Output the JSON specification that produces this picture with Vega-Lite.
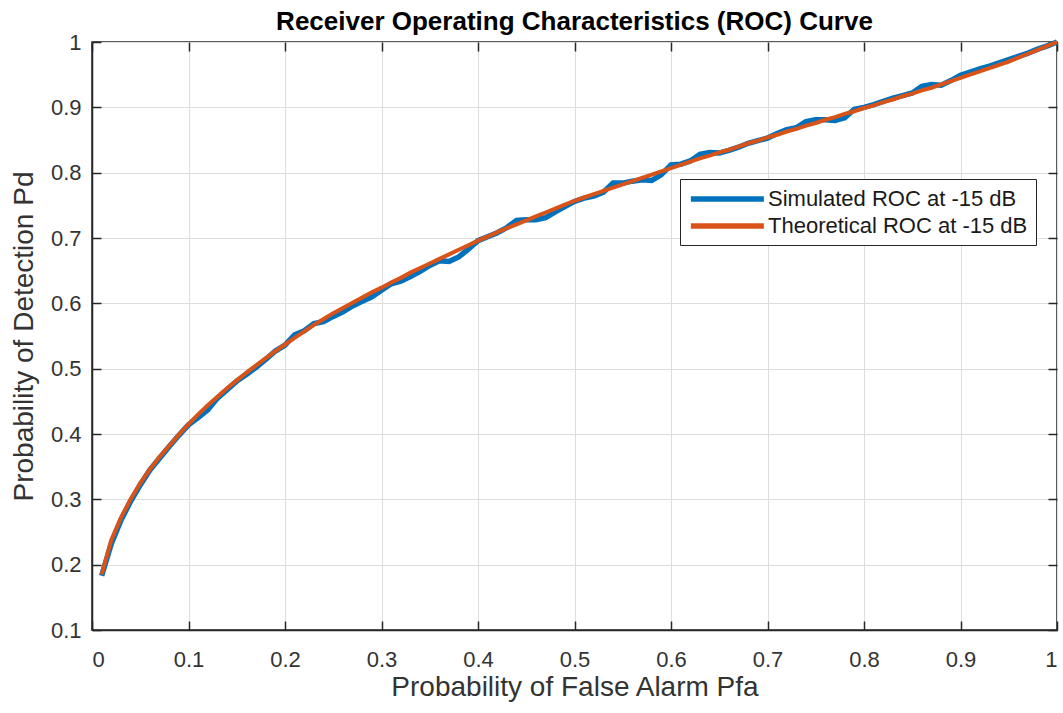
{
  "$schema": "https://vega.github.io/schema/vega-lite/v6.json",
  "width": 965,
  "height": 588,
  "autosize": {"type": "none"},
  "padding": {"left": 92, "top": 42, "right": 6, "bottom": 83},
  "background": "white",
  "title": {"text": "Receiver Operating Characteristics (ROC) Curve", "fontSize": 26, "font": "Liberation Sans", "fontWeight": "bold", "color": "#000000", "offset": -4, "anchor": "middle"},
  "data": {"values": [
    {"pfa": 0.01, "sim": 0.183, "theo": 0.185},
    {"pfa": 0.02, "sim": 0.232, "theo": 0.238},
    {"pfa": 0.03, "sim": 0.268, "theo": 0.272},
    {"pfa": 0.04, "sim": 0.297, "theo": 0.300},
    {"pfa": 0.05, "sim": 0.322, "theo": 0.325},
    {"pfa": 0.06, "sim": 0.345, "theo": 0.346},
    {"pfa": 0.07, "sim": 0.363, "theo": 0.365},
    {"pfa": 0.08, "sim": 0.381, "theo": 0.382},
    {"pfa": 0.09, "sim": 0.398, "theo": 0.399},
    {"pfa": 0.10, "sim": 0.414, "theo": 0.415},
    {"pfa": 0.11, "sim": 0.425, "theo": 0.430},
    {"pfa": 0.12, "sim": 0.437, "theo": 0.444},
    {"pfa": 0.13, "sim": 0.455, "theo": 0.457},
    {"pfa": 0.14, "sim": 0.468, "theo": 0.470},
    {"pfa": 0.15, "sim": 0.481, "theo": 0.482},
    {"pfa": 0.16, "sim": 0.491, "theo": 0.494},
    {"pfa": 0.17, "sim": 0.502, "theo": 0.505},
    {"pfa": 0.18, "sim": 0.514, "theo": 0.516},
    {"pfa": 0.19, "sim": 0.527, "theo": 0.527},
    {"pfa": 0.20, "sim": 0.536, "theo": 0.537},
    {"pfa": 0.21, "sim": 0.552, "theo": 0.547},
    {"pfa": 0.22, "sim": 0.558, "theo": 0.557},
    {"pfa": 0.23, "sim": 0.569, "theo": 0.567},
    {"pfa": 0.24, "sim": 0.572, "theo": 0.576},
    {"pfa": 0.25, "sim": 0.580, "theo": 0.585},
    {"pfa": 0.26, "sim": 0.587, "theo": 0.593},
    {"pfa": 0.27, "sim": 0.596, "theo": 0.601},
    {"pfa": 0.28, "sim": 0.603, "theo": 0.609},
    {"pfa": 0.29, "sim": 0.610, "theo": 0.617},
    {"pfa": 0.30, "sim": 0.620, "theo": 0.624},
    {"pfa": 0.31, "sim": 0.630, "theo": 0.632},
    {"pfa": 0.32, "sim": 0.634, "theo": 0.639},
    {"pfa": 0.33, "sim": 0.641, "theo": 0.647},
    {"pfa": 0.34, "sim": 0.649, "theo": 0.654},
    {"pfa": 0.35, "sim": 0.658, "theo": 0.661},
    {"pfa": 0.36, "sim": 0.665, "theo": 0.668},
    {"pfa": 0.37, "sim": 0.664, "theo": 0.675},
    {"pfa": 0.38, "sim": 0.671, "theo": 0.682},
    {"pfa": 0.39, "sim": 0.683, "theo": 0.689},
    {"pfa": 0.40, "sim": 0.696, "theo": 0.696},
    {"pfa": 0.41, "sim": 0.702, "theo": 0.702},
    {"pfa": 0.42, "sim": 0.708, "theo": 0.709},
    {"pfa": 0.43, "sim": 0.716, "theo": 0.715},
    {"pfa": 0.44, "sim": 0.727, "theo": 0.721},
    {"pfa": 0.45, "sim": 0.728, "theo": 0.727},
    {"pfa": 0.46, "sim": 0.728, "theo": 0.733},
    {"pfa": 0.47, "sim": 0.731, "theo": 0.739},
    {"pfa": 0.48, "sim": 0.740, "theo": 0.745},
    {"pfa": 0.49, "sim": 0.748, "theo": 0.751},
    {"pfa": 0.50, "sim": 0.756, "theo": 0.757},
    {"pfa": 0.51, "sim": 0.761, "theo": 0.762},
    {"pfa": 0.52, "sim": 0.764, "theo": 0.767},
    {"pfa": 0.53, "sim": 0.770, "theo": 0.772},
    {"pfa": 0.54, "sim": 0.784, "theo": 0.777},
    {"pfa": 0.55, "sim": 0.784, "theo": 0.782},
    {"pfa": 0.56, "sim": 0.787, "theo": 0.787},
    {"pfa": 0.57, "sim": 0.789, "theo": 0.792},
    {"pfa": 0.58, "sim": 0.788, "theo": 0.797},
    {"pfa": 0.59, "sim": 0.797, "theo": 0.802},
    {"pfa": 0.60, "sim": 0.812, "theo": 0.807},
    {"pfa": 0.61, "sim": 0.813, "theo": 0.812},
    {"pfa": 0.62, "sim": 0.818, "theo": 0.817},
    {"pfa": 0.63, "sim": 0.828, "theo": 0.822},
    {"pfa": 0.64, "sim": 0.831, "theo": 0.826},
    {"pfa": 0.65, "sim": 0.830, "theo": 0.831},
    {"pfa": 0.66, "sim": 0.834, "theo": 0.835},
    {"pfa": 0.67, "sim": 0.839, "theo": 0.840},
    {"pfa": 0.68, "sim": 0.845, "theo": 0.845},
    {"pfa": 0.69, "sim": 0.849, "theo": 0.849},
    {"pfa": 0.70, "sim": 0.853, "theo": 0.854},
    {"pfa": 0.71, "sim": 0.860, "theo": 0.858},
    {"pfa": 0.72, "sim": 0.866, "theo": 0.863},
    {"pfa": 0.73, "sim": 0.869, "theo": 0.867},
    {"pfa": 0.74, "sim": 0.878, "theo": 0.872},
    {"pfa": 0.75, "sim": 0.881, "theo": 0.876},
    {"pfa": 0.76, "sim": 0.881, "theo": 0.881},
    {"pfa": 0.77, "sim": 0.880, "theo": 0.885},
    {"pfa": 0.78, "sim": 0.884, "theo": 0.890},
    {"pfa": 0.79, "sim": 0.897, "theo": 0.894},
    {"pfa": 0.80, "sim": 0.900, "theo": 0.899},
    {"pfa": 0.81, "sim": 0.904, "theo": 0.903},
    {"pfa": 0.82, "sim": 0.909, "theo": 0.908},
    {"pfa": 0.83, "sim": 0.914, "theo": 0.912},
    {"pfa": 0.84, "sim": 0.918, "theo": 0.917},
    {"pfa": 0.85, "sim": 0.922, "theo": 0.921},
    {"pfa": 0.86, "sim": 0.932, "theo": 0.926},
    {"pfa": 0.87, "sim": 0.935, "theo": 0.930},
    {"pfa": 0.88, "sim": 0.934, "theo": 0.935},
    {"pfa": 0.89, "sim": 0.941, "theo": 0.940},
    {"pfa": 0.90, "sim": 0.949, "theo": 0.945},
    {"pfa": 0.91, "sim": 0.954, "theo": 0.950},
    {"pfa": 0.92, "sim": 0.959, "theo": 0.955},
    {"pfa": 0.93, "sim": 0.963, "theo": 0.960},
    {"pfa": 0.94, "sim": 0.968, "theo": 0.965},
    {"pfa": 0.95, "sim": 0.973, "theo": 0.970},
    {"pfa": 0.96, "sim": 0.978, "theo": 0.976},
    {"pfa": 0.97, "sim": 0.983, "theo": 0.982},
    {"pfa": 0.98, "sim": 0.989, "theo": 0.988},
    {"pfa": 0.99, "sim": 0.994, "theo": 0.994},
    {"pfa": 1.00, "sim": 1.000, "theo": 1.000}
  ]},
  "layer": [
    {
      "mark": {"type": "line", "strokeWidth": 5.5},
      "encoding": {
        "x": {"field": "pfa", "type": "quantitative", "scale": {"domain": [0, 1], "nice": false, "zero": false},
          "axis": {"orient": "bottom", "title": "Probability of False Alarm Pfa", "values": [0, 0.1, 0.2, 0.3, 0.4, 0.5, 0.6, 0.7, 0.8, 0.9, 1], "format": "~g", "grid": true, "tickSize": -9, "labelPadding": 28, "titlePadding": 3}},
        "y": {"field": "sim", "type": "quantitative", "scale": {"domain": [0.1, 1], "nice": false, "zero": false},
          "axis": {"orient": "left", "title": "Probability of Detection Pd", "values": [0.1, 0.2, 0.3, 0.4, 0.5, 0.6, 0.7, 0.8, 0.9, 1], "format": "~g", "grid": true, "tickSize": -9, "labelPadding": 20, "titlePadding": 12}},
        "color": {"datum": "Simulated ROC at -15 dB", "type": "nominal",
          "scale": {"domain": ["Simulated ROC at -15 dB", "Theoretical ROC at -15 dB"], "range": ["#0072BD", "#D95319"]},
          "legend": {"title": null}}
      }
    },
    {
      "mark": {"type": "line", "strokeWidth": 4},
      "encoding": {
        "x": {"field": "pfa", "type": "quantitative", "scale": {"domain": [0, 1], "nice": false, "zero": false},
          "axis": {"orient": "top", "title": null, "labels": false, "grid": false, "domain": false, "values": [0, 0.1, 0.2, 0.3, 0.4, 0.5, 0.6, 0.7, 0.8, 0.9, 1], "tickSize": -9}},
        "y": {"field": "theo", "type": "quantitative", "scale": {"domain": [0.1, 1], "nice": false, "zero": false},
          "axis": {"orient": "right", "title": null, "labels": false, "grid": false, "domain": false, "values": [0.1, 0.2, 0.3, 0.4, 0.5, 0.6, 0.7, 0.8, 0.9, 1], "tickSize": -9}},
        "color": {"datum": "Theoretical ROC at -15 dB", "type": "nominal"}
      }
    }
  ],
  "resolve": {"axis": {"x": "independent", "y": "independent"}},
  "config": {
    "view": {"stroke": "#262626", "strokeWidth": 1.5},
    "axis": {
      "domainColor": "#262626", "domainWidth": 1.5,
      "tickColor": "#262626", "tickWidth": 1.5,
      "gridColor": "#dedede", "gridWidth": 1,
      "labelFont": "Liberation Sans", "labelFontSize": 22, "labelColor": "#333333",
      "titleFont": "Liberation Sans", "titleFontSize": 28, "titleFontWeight": "normal", "titleColor": "#333333"
    },
    "legend": {
      "orient": "none", "legendX": 588, "legendY": 137,
      "strokeColor": "#262626", "fillColor": "white", "padding": 8,
      "symbolType": "M-1,0H7", "symbolSize": 333, "symbolStrokeWidth": 5.5,
      "labelFont": "Liberation Sans", "labelFontSize": 22, "labelColor": "#1a1a1a", "labelLimit": 400, "labelOffset": 56,
      "rowPadding": 4
    }
  }
}
